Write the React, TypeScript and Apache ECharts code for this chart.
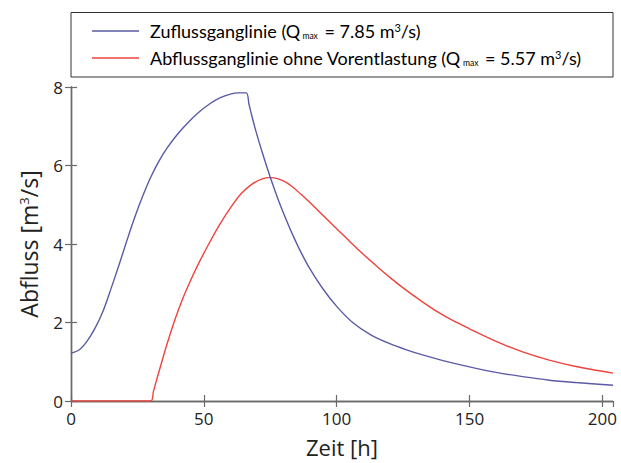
import React, { useEffect, useRef } from "react";
import * as echarts from "echarts";

// Zuflussganglinie (inflow hydrograph)
const inflowTime = [0, 3, 6, 9, 12, 15, 18, 21, 24, 27, 30, 33, 36, 40, 44, 48, 52, 56, 60, 63, 66, 67, 68, 70, 72, 75, 78, 81, 84, 87, 90, 95, 100, 106, 113, 120, 126, 132, 140, 150, 160, 170, 180, 190, 204];
const inflowValues = [1.22, 1.3, 1.52, 1.85, 2.28, 2.85, 3.45, 4.08, 4.68, 5.22, 5.7, 6.1, 6.43, 6.79, 7.09, 7.35, 7.56, 7.72, 7.82, 7.85, 7.85, 7.56, 7.28, 6.78, 6.33, 5.7, 5.13, 4.62, 4.15, 3.73, 3.36, 2.84, 2.41, 2.0, 1.68, 1.46, 1.31, 1.18, 1.03, 0.87, 0.73, 0.62, 0.53, 0.47, 0.4];

// Abflussganglinie ohne Vorentlastung (outflow hydrograph)
const outflowTime = [0, 30, 31, 33, 36, 39, 42, 45, 48, 52, 56, 60, 64, 68, 72, 75, 78, 81, 84, 87, 90, 95, 100, 105, 110, 115, 120, 126, 132, 138, 144, 150, 160, 170, 180, 190, 204];
const outflowValues = [0, 0, 0.24, 0.72, 1.42, 2.05, 2.6, 3.07, 3.5, 4.02, 4.5, 4.92, 5.28, 5.52, 5.66, 5.69, 5.66, 5.57, 5.42, 5.24, 5.05, 4.72, 4.39, 4.06, 3.74, 3.44, 3.15, 2.83, 2.54, 2.27, 2.04, 1.84, 1.52, 1.25, 1.04, 0.88, 0.71];

const xTickValues = [0, 50, 100, 150, 200];
const yTickValues = [0, 2, 4, 6, 8];

const seriesNames = [
  "Zuflussganglinie",
  "Abflussganglinie ohne Vorentlastung",
];
const legendTexts = [
  "{n|Zuflussganglinie (Q}{sub| max}{n| = 7.85 m}{sup|3}{n|/s)}",
  "{n|Abflussganglinie ohne Vorentlastung (Q}{sub| max}{n| = 5.57 m}{sup|3}{n|/s)}",
];

const BLUE = "#5a5aa6";
const RED = "#ef433d";
const AXIS = "#6a6a6a";
const FONT = "Open Sans";
const LFONT = "Lato";

export default function App() {
  const ref = useRef<HTMLDivElement>(null);

  useEffect(() => {
    if (!ref.current) return;
    const chart = echarts.init(ref.current, null, { renderer: "svg" });

    const zip = (t: number[], v: number[]) => t.map((x, i) => [x, v[i]]);
    const rich = {
      n: { fontSize: 18, fontFamily: LFONT, color: "#222" },
      sub: { fontSize: 8.5, fontFamily: LFONT, color: "#333", verticalAlign: "bottom" as const, padding: [7, 2, 0, 0] },
      sup: { fontSize: 11, fontFamily: LFONT, color: "#222", verticalAlign: "top" as const, padding: [0, 0, 7, 0] },
    };

    const xLabelFmt = (v: number) => (xTickValues.includes(v) ? String(v) : "");
    const yLabelFmt = (v: number) => (yTickValues.includes(v) ? String(v) : "");

    const baseAxisLine = { show: true, lineStyle: { color: AXIS, width: 1.4 } };
    const baseTick = { show: true, inside: true, length: 6, lineStyle: { color: AXIS, width: 1.2 } };

    chart.setOption({
      animation: false,
      backgroundColor: "#ffffff",
      grid: { left: 71, right: 8, top: 87, bottom: 61 },
      xAxis: [
        {
          type: "value",
          position: "bottom",
          min: 0,
          max: 204,
          interval: 50,
          axisLine: baseAxisLine,
          axisTick: baseTick,
          splitLine: { show: false },
          axisLabel: { formatter: xLabelFmt, color: "#222", fontSize: 17, fontFamily: FONT, margin: 9, showMaxLabel: false },
          name: "Zeit [h]",
          nameLocation: "middle",
          nameGap: 35,
          nameTextStyle: { color: "#222", fontSize: 22, fontFamily: FONT },
        },
        {
          type: "value",
          position: "top",
          min: 0,
          max: 204,
          interval: 50,
          axisLine: baseAxisLine,
          axisTick: baseTick,
          splitLine: { show: false },
          axisLabel: { show: false },
        },
      ],
      yAxis: [
        {
          type: "value",
          position: "left",
          min: 0,
          max: 8,
          interval: 2,
          axisLine: baseAxisLine,
          axisTick: baseTick,
          splitLine: { show: false },
          axisLabel: { formatter: yLabelFmt, color: "#222", fontSize: 17, fontFamily: FONT, margin: 8 },
          name: "{n|Abfluss [m}{s|3}{n|/s]}",
          nameLocation: "middle",
          nameGap: 31,
          nameTextStyle: {
            color: "#222",
            fontSize: 23,
            fontFamily: FONT,
            rich: {
              n: { fontSize: 23, fontFamily: FONT, color: "#222" },
              s: { fontSize: 13, fontFamily: FONT, color: "#222", verticalAlign: "top", padding: [0, 0, 9, 0] },
            },
          },
        },
        {
          type: "value",
          position: "right",
          min: 0,
          max: 8,
          interval: 2,
          axisLine: baseAxisLine,
          axisTick: baseTick,
          splitLine: { show: false },
          axisLabel: { show: false },
        },
      ],
      series: [
        {
          name: seriesNames[0],
          type: "line",
          xAxisIndex: 0,
          yAxisIndex: 0,
          data: zip(inflowTime, inflowValues),
          showSymbol: false,
          symbol: "none",
          smooth: 0.3,
          lineStyle: { color: BLUE, width: 1.4 },
          itemStyle: { color: BLUE },
          z: 3,
        },
        {
          name: seriesNames[1],
          type: "line",
          xAxisIndex: 0,
          yAxisIndex: 0,
          data: zip(outflowTime, outflowValues),
          showSymbol: false,
          symbol: "none",
          smooth: 0.3,
          lineStyle: { color: RED, width: 1.4 },
          itemStyle: { color: RED },
          z: 2,
        },
      ],
      graphic: [
        {
          type: "rect",
          shape: { x: 71, y: 12.5, width: 542, height: 64.5 },
          style: { fill: "#ffffff", stroke: "#333", lineWidth: 1 },
          z: 10,
        },
        {
          type: "line",
          shape: { x1: 92, y1: 31, x2: 139, y2: 31 },
          style: { stroke: BLUE, lineWidth: 1.4 },
          z: 11,
        },
        {
          type: "line",
          shape: { x1: 92, y1: 58, x2: 139, y2: 58 },
          style: { stroke: RED, lineWidth: 1.4 },
          z: 11,
        },
        {
          type: "text",
          x: 150,
          y: 31,
          style: { text: legendTexts[0], rich, verticalAlign: "middle", align: "left" },
          z: 11,
        },
        {
          type: "text",
          x: 150,
          y: 58,
          style: { text: legendTexts[1], rich, verticalAlign: "middle", align: "left" },
          z: 11,
        },
      ],
    });

    return () => chart.dispose();
  }, []);

  return (
    <div
      ref={ref}
      style={{ position: "absolute", left: 0, top: 0, width: 621, height: 463, background: "#fff" }}
    />
  );
}
